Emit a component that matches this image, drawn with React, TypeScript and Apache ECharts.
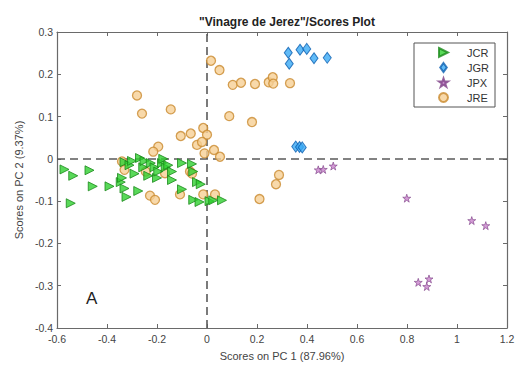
import React, { useEffect, useRef } from "react";
import * as echarts from "echarts";

// PCA scores (PC1, PC2) per vinegar class
const jcr: number[][] = [
  [-0.57, -0.025], [-0.535, -0.04], [-0.545, -0.105], [-0.47, -0.027], [-0.457, -0.065],
  [-0.39, -0.065], [-0.345, -0.055], [-0.34, -0.045], [-0.33, -0.07], [-0.322, -0.09],
  [-0.33, -0.008], [-0.31, -0.015], [-0.3, -0.005], [-0.29, -0.035], [-0.275, -0.076],
  [-0.268, 0.002], [-0.255, -0.02], [-0.25, -0.005], [-0.235, -0.04], [-0.225, -0.01],
  [-0.21, -0.02], [-0.2, -0.045], [-0.195, -0.03], [-0.18, -0.01], [-0.175, 0.0],
  [-0.165, -0.02], [-0.155, -0.015], [-0.14, -0.05], [-0.14, -0.03], [-0.1, -0.01],
  [-0.1, -0.072], [-0.06, -0.012], [-0.055, -0.03], [-0.055, -0.097], [-0.04, -0.055],
  [-0.025, -0.06], [0.01, -0.1], [0.025, -0.098], [0.06, -0.098], [-0.03, -0.102],
];
const jgr: number[][] = [
  [0.325, 0.251], [0.329, 0.225], [0.372, 0.258], [0.399, 0.26], [0.428, 0.238],
  [0.481, 0.239], [0.355, 0.029], [0.37, 0.028], [0.381, 0.027],
];
const jpx: number[][] = [
  [0.445, -0.026], [0.465, -0.025], [0.505, -0.017], [0.799, -0.093], [1.059, -0.146],
  [1.115, -0.158], [0.845, -0.292], [0.888, -0.284], [0.879, -0.302],
];
const jre: number[][] = [
  [0.016, 0.232], [0.05, 0.21], [-0.28, 0.15], [-0.26, 0.107], [-0.145, 0.117],
  [-0.105, 0.054], [-0.065, 0.06], [-0.015, 0.073], [0.0, 0.057], [-0.04, 0.033],
  [-0.02, 0.04], [-0.195, 0.029], [-0.215, 0.017], [-0.01, 0.013], [0.028, 0.021],
  [0.052, 0.005], [0.089, 0.101], [0.18, 0.087], [0.103, 0.175], [0.136, 0.18],
  [0.192, 0.177], [0.247, 0.181], [0.263, 0.193], [0.265, 0.178], [0.332, 0.179],
  [0.288, -0.038], [0.276, -0.06], [0.21, -0.095], [-0.34, -0.006], [-0.33, -0.026],
  [-0.245, -0.03], [-0.168, -0.034], [-0.068, -0.03], [-0.06, -0.035], [-0.228, -0.087],
  [-0.208, -0.097], [-0.108, -0.084], [-0.015, -0.084], [0.032, -0.084],
];

const xTicks = { min: -0.6, max: 1.2, interval: 0.2 };
const yTicks = { min: -0.4, max: 0.3, interval: 0.1 };

const STAR =
  "path://M50,0 L61.8,35.1 L98.9,35.1 L69.1,56.8 L80.3,91.9 L50,70.2 L19.7,91.9 L30.9,56.8 L1.1,35.1 L38.2,35.1 Z";
const RIGHT_TRI = "path://M0,0 L10,5 L0,10 Z";
const TALL_DIAMOND = "path://M4,0 L8,5.5 L4,11 L0,5.5 Z";

const FONT = "Liberation Sans, Arial, sans-serif";
const AXIS = "#6a6a6a";

export default function App() {
  const ref = useRef<HTMLDivElement>(null);

  useEffect(() => {
    document.body.style.margin = "0";
    const chart = echarts.init(ref.current!, null, { renderer: "svg" });
    const baseAxis = {
      type: "value" as const,
      splitLine: { show: false },
      axisLine: { show: true, onZero: false, lineStyle: { color: AXIS, width: 1.2 } },
      axisTick: { show: true, inside: true, length: 4, lineStyle: { color: AXIS } },
    };
    chart.setOption({
      animation: false,
      backgroundColor: "#ffffff",
      textStyle: { fontFamily: FONT },
      title: {
        text: '"Vinagre de Jerez"/Scores Plot',
        left: 282,
        textAlign: "center",
        top: 11,
        textStyle: { fontSize: 12, fontWeight: "bold", color: "#222", fontFamily: FONT },
      },
      grid: { left: 57, right: 12, top: 32, bottom: 44, show: false },
      xAxis: [
        {
          ...baseAxis,
          ...xTicks,
          position: "bottom",
          name: "Scores on PC 1 (87.96%)",
          nameLocation: "middle",
          nameGap: 22,
          nameTextStyle: { fontSize: 11, color: "#444", fontFamily: FONT },
          axisLabel: { fontSize: 10.5, color: "#444", margin: 5, fontFamily: FONT },
        },
        { ...baseAxis, ...xTicks, position: "top", axisLabel: { show: false } },
      ],
      yAxis: [
        {
          ...baseAxis,
          ...yTicks,
          position: "left",
          name: "Scores on PC 2 (9.37%)",
          nameLocation: "middle",
          nameGap: 26,
          nameTextStyle: { fontSize: 11, color: "#444", fontFamily: FONT },
          axisLabel: { fontSize: 10.5, color: "#444", margin: 4, fontFamily: FONT },
        },
        { ...baseAxis, ...yTicks, position: "right", axisLabel: { show: false } },
      ],
      legend: {
        orient: "vertical",
        left: 414,
        top: 43,
        padding: [4, 6, 4, 24],
        itemWidth: 9,
        itemHeight: 9,
        itemGap: 4,
        borderColor: "#555",
        borderWidth: 1,
        backgroundColor: "#fff",
        textStyle: { fontSize: 11, color: "#333", fontFamily: FONT, padding: [0, 0, 0, 14] },
        data: [
          { name: "JCR", icon: RIGHT_TRI },
          { name: "JGR", icon: TALL_DIAMOND },
          { name: "JPX", icon: STAR },
          { name: "JRE", icon: "circle" },
        ],
      },
      series: [
        {
          name: "JCR",
          type: "scatter",
          data: jcr,
          symbol: "triangle",
          symbolRotate: -90,
          symbolSize: 9,
          itemStyle: { color: "#2fcf2f", borderColor: "#1b8a1b", borderWidth: 1 },
          z: 3,
          markLine: {
            silent: true,
            z: 1,
            symbol: "none",
            label: { show: false },
            lineStyle: { color: "#5a5a5a", width: 1.6, type: [8, 5] },
            data: [{ xAxis: 0 }, { yAxis: 0 }],
          },
        },
        {
          name: "JGR",
          type: "scatter",
          data: jgr,
          symbol: "diamond",
          symbolSize: [8, 11],
          itemStyle: { color: "#3aaaf5", borderColor: "#0d5fb0", borderWidth: 1 },
          z: 3,
        },
        {
          name: "JPX",
          type: "scatter",
          data: jpx,
          symbol: STAR,
          symbolSize: 8,
          itemStyle: { color: "#c982cc", borderColor: "#7d3f86", borderWidth: 0.8 },
          z: 3,
        },
        {
          name: "JRE",
          type: "scatter",
          data: jre,
          symbol: "circle",
          symbolSize: 9,
          itemStyle: { color: "#f6cf95", borderColor: "#c98a2e", borderWidth: 1.3 },
          z: 2,
        },
      ],
      graphic: [
        {
          type: "text",
          left: 86,
          top: 290,
          style: { text: "A", fontSize: 17, fill: "#222", fontFamily: FONT },
        },
      ],
    });
    return () => chart.dispose();
  }, []);

  return <div ref={ref} style={{ width: 519, height: 372 }} />;
}
